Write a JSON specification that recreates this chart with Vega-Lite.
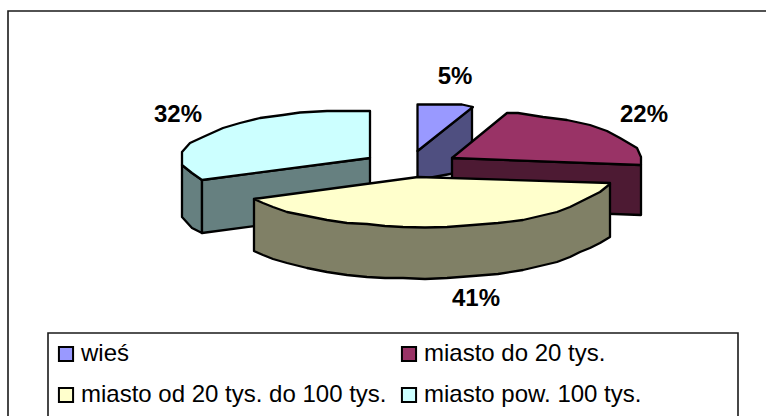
{"$schema":"https://vega.github.io/schema/vega-lite/v6.json","width":766,"height":416,"padding":0,"autosize":"none","background":"white","view":{"stroke":null},
"config":{"font":"Liberation Sans"},
"datasets":{"faces":[
{"part":"c1","face":"miasto pow. 100 tys. (bok)","x":182,"y":165},{"part":"c1","face":"miasto pow. 100 tys. (bok)","x":192,"y":173},{"part":"c1","face":"miasto pow. 100 tys. (bok)","x":202,"y":180},{"part":"c1","face":"miasto pow. 100 tys. (bok)","x":202,"y":233},{"part":"c1","face":"miasto pow. 100 tys. (bok)","x":192,"y":228},{"part":"c1","face":"miasto pow. 100 tys. (bok)","x":182,"y":217},
{"part":"c2","face":"miasto pow. 100 tys. (bok)","x":202,"y":180},{"part":"c2","face":"miasto pow. 100 tys. (bok)","x":370,"y":158},{"part":"c2","face":"miasto pow. 100 tys. (bok)","x":370,"y":211},{"part":"c2","face":"miasto pow. 100 tys. (bok)","x":202,"y":233},
{"part":"c3","face":"miasto pow. 100 tys.","x":182,"y":152},{"part":"c3","face":"miasto pow. 100 tys.","x":190,"y":143},{"part":"c3","face":"miasto pow. 100 tys.","x":203,"y":137},{"part":"c3","face":"miasto pow. 100 tys.","x":223,"y":128},{"part":"c3","face":"miasto pow. 100 tys.","x":240,"y":123},{"part":"c3","face":"miasto pow. 100 tys.","x":260,"y":118},{"part":"c3","face":"miasto pow. 100 tys.","x":283,"y":115},{"part":"c3","face":"miasto pow. 100 tys.","x":300,"y":112.5},{"part":"c3","face":"miasto pow. 100 tys.","x":327,"y":111},{"part":"c3","face":"miasto pow. 100 tys.","x":370,"y":111},{"part":"c3","face":"miasto pow. 100 tys.","x":370,"y":158},{"part":"c3","face":"miasto pow. 100 tys.","x":202,"y":180},{"part":"c3","face":"miasto pow. 100 tys.","x":192,"y":173},{"part":"c3","face":"miasto pow. 100 tys.","x":182,"y":165},
{"part":"b1","face":"wieś (bok)","x":417.5,"y":151},{"part":"b1","face":"wieś (bok)","x":472,"y":107},{"part":"b1","face":"wieś (bok)","x":472,"y":170},{"part":"b1","face":"wieś (bok)","x":417.5,"y":180},
{"part":"b2","face":"wieś","x":417.5,"y":104.5},{"part":"b2","face":"wieś","x":462,"y":104.5},{"part":"b2","face":"wieś","x":473,"y":107},{"part":"b2","face":"wieś","x":417.5,"y":151},
{"part":"m1","face":"miasto do 20 tys. (bok)","x":452,"y":158},{"part":"m1","face":"miasto do 20 tys. (bok)","x":641,"y":165},{"part":"m1","face":"miasto do 20 tys. (bok)","x":641,"y":215},{"part":"m1","face":"miasto do 20 tys. (bok)","x":452,"y":208},
{"part":"m2","face":"miasto do 20 tys.","x":452,"y":158},{"part":"m2","face":"miasto do 20 tys.","x":507,"y":113},{"part":"m2","face":"miasto do 20 tys.","x":518,"y":113},{"part":"m2","face":"miasto do 20 tys.","x":543,"y":117},{"part":"m2","face":"miasto do 20 tys.","x":567,"y":120},{"part":"m2","face":"miasto do 20 tys.","x":590,"y":125},{"part":"m2","face":"miasto do 20 tys.","x":607,"y":131},{"part":"m2","face":"miasto do 20 tys.","x":620,"y":138},{"part":"m2","face":"miasto do 20 tys.","x":637,"y":148},{"part":"m2","face":"miasto do 20 tys.","x":641,"y":157},{"part":"m2","face":"miasto do 20 tys.","x":641,"y":165},
{"part":"y1","face":"miasto od 20 tys. do 100 tys. (bok)","x":254,"y":199},{"part":"y1","face":"miasto od 20 tys. do 100 tys. (bok)","x":610,"y":184},{"part":"y1","face":"miasto od 20 tys. do 100 tys. (bok)","x":610,"y":237},{"part":"y1","face":"miasto od 20 tys. do 100 tys. (bok)","x":600,"y":243},{"part":"y1","face":"miasto od 20 tys. do 100 tys. (bok)","x":590,"y":248},{"part":"y1","face":"miasto od 20 tys. do 100 tys. (bok)","x":580,"y":252},{"part":"y1","face":"miasto od 20 tys. do 100 tys. (bok)","x":570,"y":257},{"part":"y1","face":"miasto od 20 tys. do 100 tys. (bok)","x":557,"y":262},{"part":"y1","face":"miasto od 20 tys. do 100 tys. (bok)","x":540,"y":266},{"part":"y1","face":"miasto od 20 tys. do 100 tys. (bok)","x":523,"y":270},{"part":"y1","face":"miasto od 20 tys. do 100 tys. (bok)","x":498,"y":274},{"part":"y1","face":"miasto od 20 tys. do 100 tys. (bok)","x":473,"y":276},{"part":"y1","face":"miasto od 20 tys. do 100 tys. (bok)","x":447,"y":278},{"part":"y1","face":"miasto od 20 tys. do 100 tys. (bok)","x":425,"y":279},{"part":"y1","face":"miasto od 20 tys. do 100 tys. (bok)","x":403,"y":278},{"part":"y1","face":"miasto od 20 tys. do 100 tys. (bok)","x":385,"y":278},{"part":"y1","face":"miasto od 20 tys. do 100 tys. (bok)","x":367,"y":277},{"part":"y1","face":"miasto od 20 tys. do 100 tys. (bok)","x":347,"y":275},{"part":"y1","face":"miasto od 20 tys. do 100 tys. (bok)","x":327,"y":272},{"part":"y1","face":"miasto od 20 tys. do 100 tys. (bok)","x":307,"y":268},{"part":"y1","face":"miasto od 20 tys. do 100 tys. (bok)","x":287,"y":263},{"part":"y1","face":"miasto od 20 tys. do 100 tys. (bok)","x":273,"y":259},{"part":"y1","face":"miasto od 20 tys. do 100 tys. (bok)","x":263,"y":255},{"part":"y1","face":"miasto od 20 tys. do 100 tys. (bok)","x":254,"y":251},
{"part":"y2","face":"miasto od 20 tys. do 100 tys.","x":254,"y":199},{"part":"y2","face":"miasto od 20 tys. do 100 tys.","x":418,"y":177},{"part":"y2","face":"miasto od 20 tys. do 100 tys.","x":610,"y":183},{"part":"y2","face":"miasto od 20 tys. do 100 tys.","x":610,"y":184},{"part":"y2","face":"miasto od 20 tys. do 100 tys.","x":600,"y":192},{"part":"y2","face":"miasto od 20 tys. do 100 tys.","x":590,"y":197},{"part":"y2","face":"miasto od 20 tys. do 100 tys.","x":580,"y":202},{"part":"y2","face":"miasto od 20 tys. do 100 tys.","x":570,"y":207},{"part":"y2","face":"miasto od 20 tys. do 100 tys.","x":557,"y":212},{"part":"y2","face":"miasto od 20 tys. do 100 tys.","x":540,"y":216},{"part":"y2","face":"miasto od 20 tys. do 100 tys.","x":523,"y":220},{"part":"y2","face":"miasto od 20 tys. do 100 tys.","x":498,"y":223},{"part":"y2","face":"miasto od 20 tys. do 100 tys.","x":473,"y":225},{"part":"y2","face":"miasto od 20 tys. do 100 tys.","x":447,"y":227},{"part":"y2","face":"miasto od 20 tys. do 100 tys.","x":425,"y":227.5},{"part":"y2","face":"miasto od 20 tys. do 100 tys.","x":403,"y":227},{"part":"y2","face":"miasto od 20 tys. do 100 tys.","x":385,"y":226},{"part":"y2","face":"miasto od 20 tys. do 100 tys.","x":367,"y":224},{"part":"y2","face":"miasto od 20 tys. do 100 tys.","x":347,"y":223},{"part":"y2","face":"miasto od 20 tys. do 100 tys.","x":327,"y":220},{"part":"y2","face":"miasto od 20 tys. do 100 tys.","x":307,"y":216},{"part":"y2","face":"miasto od 20 tys. do 100 tys.","x":287,"y":212},{"part":"y2","face":"miasto od 20 tys. do 100 tys.","x":273,"y":207},{"part":"y2","face":"miasto od 20 tys. do 100 tys.","x":263,"y":203}
],
"frames":[
{"f":"outer","x":766,"y":11},{"f":"outer","x":8,"y":11},{"f":"outer","x":8,"y":416},
{"f":"legend","x":48,"y":416},{"f":"legend","x":48,"y":333},{"f":"legend","x":738,"y":333},{"f":"legend","x":738,"y":416}
],
"labels":[
{"label":"5%","share":5,"x":455,"y":77},{"label":"22%","share":22,"x":644,"y":115},{"label":"41%","share":41,"x":476,"y":299},{"label":"32%","share":32,"x":178,"y":115}
]},
"layer":[
{"data":{"name":"frames"},"mark":{"type":"line","stroke":"#1a1a1a","strokeWidth":1.6},
 "encoding":{"x":{"field":"x","type":"quantitative","scale":{"domain":[0,766],"nice":false,"zero":false},"axis":null},"y":{"field":"y","type":"quantitative","scale":{"domain":[416,0],"nice":false,"zero":false},"axis":null},"detail":{"field":"f"},"order":{"value":null}}},
{"data":{"name":"faces"},"mark":{"type":"line","interpolate":"linear-closed","filled":true,"stroke":"black","strokeWidth":2.3,"strokeJoin":"round"},
 "encoding":{"x":{"field":"x","type":"quantitative","axis":null},"y":{"field":"y","type":"quantitative","axis":null},"detail":{"field":"part"},"order":{"value":null},
 "fill":{"field":"face","type":"nominal","scale":{"domain":["wieś","miasto do 20 tys.","miasto od 20 tys. do 100 tys.","miasto pow. 100 tys.","wieś (bok)","miasto do 20 tys. (bok)","miasto od 20 tys. do 100 tys. (bok)","miasto pow. 100 tys. (bok)"],"range":["#9999ff","#993366","#ffffcc","#ccffff","#4f4f80","#4d1a33","#808066","#668080"]},
 "legend":{"values":["wieś","miasto od 20 tys. do 100 tys.","miasto do 20 tys.","miasto pow. 100 tys."],"title":null,"orient":"none","legendX":54,"legendY":342,"columns":2,"columnPadding":10,"rowPadding":17,"padding":0,"symbolType":"square","symbolSize":200,"symbolStrokeColor":"black","symbolStrokeWidth":2,"symbolOpacity":1,"labelFont":"Liberation Sans","labelFontSize":24,"labelColor":"black","labelLimit":400,"labelOffset":3}}}},
{"data":{"name":"labels"},"mark":{"type":"text","font":"Liberation Sans","fontWeight":"bold","fontSize":24,"color":"black","align":"center","baseline":"middle"},
 "encoding":{"x":{"field":"x","type":"quantitative","axis":null},"y":{"field":"y","type":"quantitative","axis":null},"text":{"field":"label","type":"nominal"}}}
]}
